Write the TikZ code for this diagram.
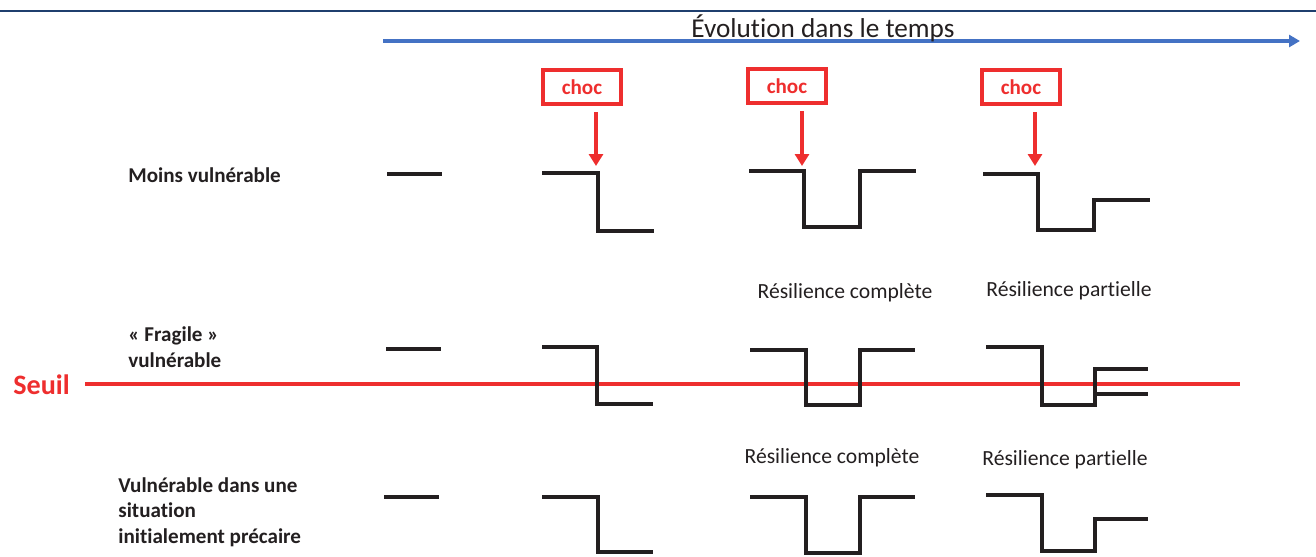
\documentclass[tikz,border=0pt]{standalone}
\usepackage{fontspec}
\setmainfont[Ligatures={NoCommon,NoContextual},Contextuals=NoAlternate]{Carlito}
\usetikzlibrary{arrows.meta,positioning}
\definecolor{shockred}{HTML}{EE2E2E}
\definecolor{timeblue}{HTML}{4472C4}
\definecolor{rulenavy}{HTML}{1F3F6E}
\definecolor{ink}{HTML}{231F20}
\tikzset{chocbox/.style={draw=shockred,line width=2.6pt,text=shockred,font=\bfseries\fontsize{12}{14}\selectfont,minimum width=15.6mm,minimum height=6.8mm,inner sep=0pt},hit/.style={-{Triangle[length=2.4mm,width=2.8mm]},line width=2.5pt,draw=shockred,shorten <=1.2mm},level/.style={line width=2pt,draw=ink},rowlab/.style={font=\bfseries\fontsize{12}{14.6}\selectfont,align=left,anchor=west,inner sep=0pt,text=ink},reslab/.style={font=\fontsize{12.3}{14}\selectfont,text=ink,inner sep=0pt}}
\begin{document}
\begin{tikzpicture}[x=0.2mm,y=-0.2mm]
\useasboundingbox (0,0) rectangle (1316,556);
\draw[rulenavy,line width=1pt] (0,11)--(1316,11);
\coordinate (t0) at (383,41);\coordinate (t1) at (1300,41);
\draw[timeblue,line width=2pt,-{Triangle[length=2.2mm,width=2.4mm]}] (t0)--(t1);
\node[font=\fontsize{15.5}{18}\selectfont,text=ink,inner sep=0pt] (time) at (823,28) {Évolution dans le temps};
% chocs
\node[chocbox] (c1) at (582,87) {choc};
\node[chocbox] (c2) at (787,86) {choc};
\node[chocbox] (c3) at (1021,87) {choc};
\coordinate (h1) at (596,166);\coordinate (h2) at (802,166);\coordinate (h3) at (1035,166);
\draw[hit] (c1.south -| h1)--(h1);\draw[hit] (c2.south -| h2)--(h2);\draw[hit] (c3.south -| h3)--(h3);
% seuil
\node[font=\bfseries\fontsize{16}{18}\selectfont,text=shockred,anchor=west,inner sep=0pt] (seuil) at (13,385) {Seuil};
\coordinate (s0) at (85,384);\coordinate (s1) at (1240,384);
\draw[shockred,line width=2.4pt] (s0)--(s1);
% moins vulnerable
\node[rowlab] (r1) at (128,175) {Moins vulnérable};
\draw[level] (387,174)--(442,174);
\draw[level] (542,173)--(598,173)--(598,231)--(654,231);
\draw[level] (749,171)--(804,171)--(804,227)--(860,227)--(860,171)--(916,171);
\draw[level] (983,174)--(1038,174)--(1038,230)--(1094,230)--(1094,200)--(1150,200);
% fragile
\node[reslab] (rc1) at (845,293) {Résilience complète};
\node[reslab] (rp1) at (1069,291) {Résilience partielle};
\node[rowlab] (r2) at (128,347) {« Fragile »\\vulnérable};
\draw[level] (386,349)--(441,349);
\draw[level] (542,347)--(597,347)--(597,404)--(653,404);
\draw[level] (750,350)--(806,350)--(806,405)--(860,405)--(860,350)--(915,350);
\draw[level] (986,347)--(1042,347)--(1042,405)--(1095,405)--(1095,369)--(1148,369);
\draw[level] (1095,394)--(1148,394);
% precaire
\node[reslab] (rc2) at (832,458) {Résilience complète};
\node[reslab] (rp2) at (1065,460) {Résilience partielle};
\node[rowlab] (r3) at (118,512) {Vulnérable dans une\\situation\\initialement précaire};
\draw[level] (384,497)--(439,497);
\draw[level] (542,497)--(598,497)--(598,552)--(653,552);
\draw[level] (750,497)--(806,497)--(806,553)--(860,553)--(860,497)--(915,497);
\draw[level] (986,495)--(1042,495)--(1042,551)--(1095,551)--(1095,519)--(1148,519);
\end{tikzpicture}
\end{document}
